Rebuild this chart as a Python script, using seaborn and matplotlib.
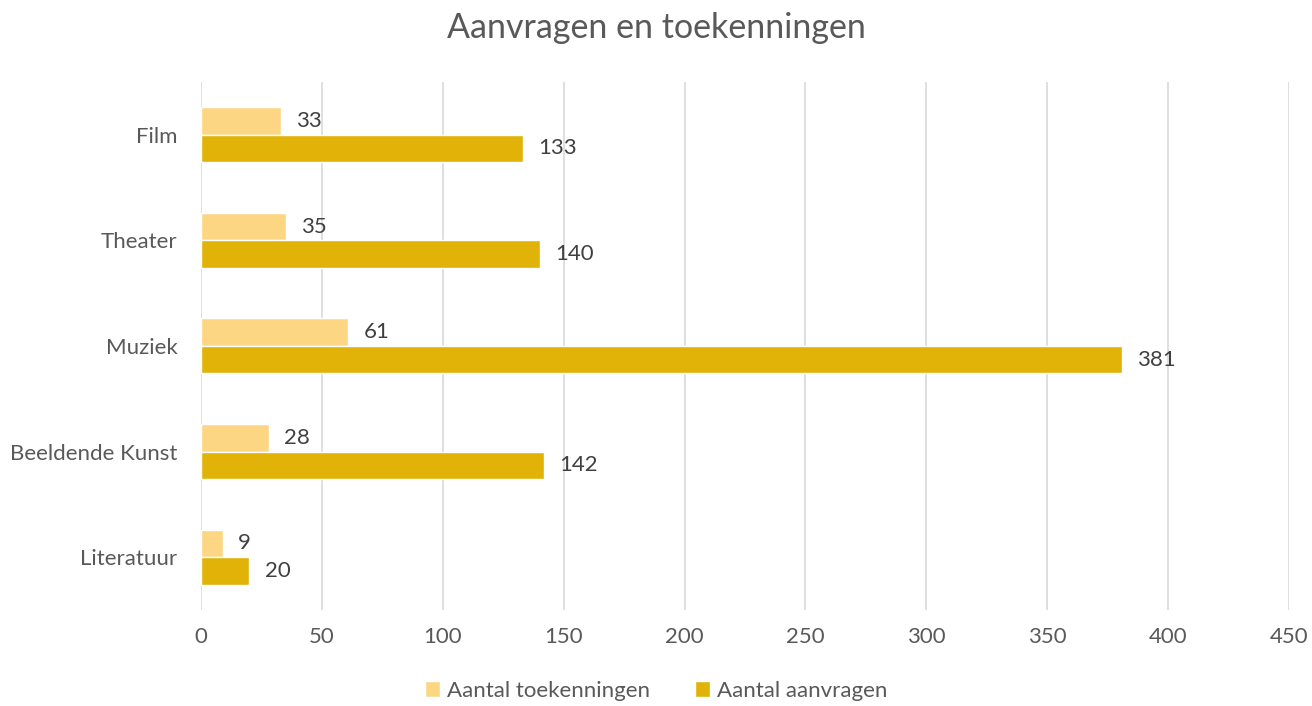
import pandas as pd
import numpy as np
import matplotlib.pyplot as plt
import seaborn as sns

categories = ["Film", "Theater", "Muziek", "Beeldende Kunst", "Literatuur"]
toekenningen = [33, 35, 61, 28, 9]
aanvragen = [133, 140, 381, 142, 20]
series_names = ["Aantal toekenningen", "Aantal aanvragen"]
colors = ["#FDD684", "#E1B207"]

df = pd.DataFrame({
    "categorie": categories * 2,
    "waarde": toekenningen + aanvragen,
    "reeks": [series_names[0]] * len(categories) + [series_names[1]] * len(categories),
})

sns.set_style("white")
plt.rcParams["font.family"] = ["Lato", "DejaVu Sans"]

fig = plt.figure(figsize=(13.12, 7.06), dpi=100)
ax = fig.add_axes([0.1532, 0.136, 0.8293, 0.748])

sns.barplot(data=df, y="categorie", x="waarde", hue="reeks", orient="h",
            palette=colors, width=0.52, order=categories, hue_order=series_names,
            saturation=1, ax=ax)

for cont in ax.containers:
    ax.bar_label(cont, padding=11, fontsize=16, color="#404040")

ax.set_xlim(0, 450)
ax.set_xticks(np.arange(0, 451, 50))
ax.set_ylim(4.5, -0.5)
ax.xaxis.grid(True, color="#D9D9D9", linewidth=1.2)
ax.set_axisbelow(True)
for s in ax.spines.values():
    s.set_visible(False)
ax.tick_params(axis="both", length=0, labelsize=16, labelcolor="#595959")
ax.tick_params(axis="x", pad=12)
ax.tick_params(axis="y", pad=17)
ax.set_xlabel("")
ax.set_ylabel("")

fig.text(0.5, 0.96, "Aanvragen en toekenningen", ha="center", va="center",
         fontsize=24.5, color="#595959")

handles, labels = ax.get_legend_handles_labels()
ax.legend_.remove()
fig.legend(handles, labels, loc="center", bbox_to_anchor=(0.5, 1 - 691 / 706), ncol=2,
           frameon=False, fontsize=16, labelcolor="#595959", handlelength=0.7,
           handleheight=0.7, handletextpad=0.3, columnspacing=2.0)

fig.savefig("out.png", dpi=100)
